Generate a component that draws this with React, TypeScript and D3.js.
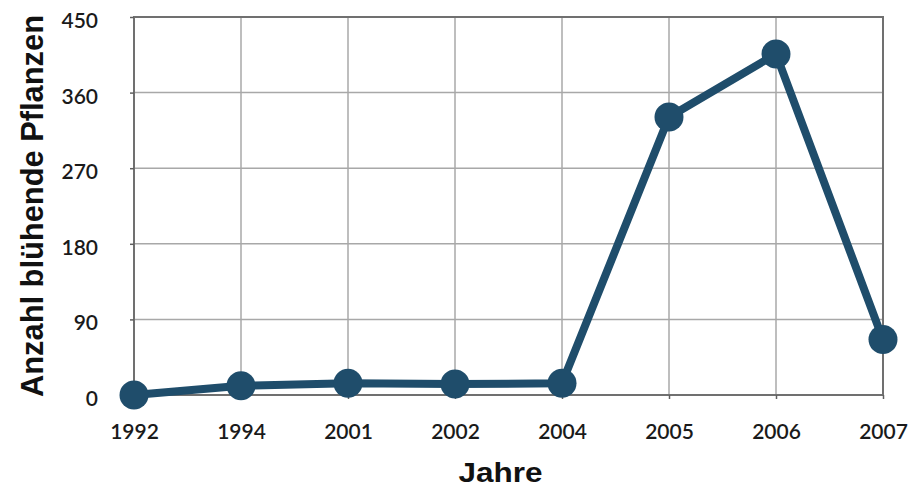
import { useEffect, useRef } from 'react';
import * as d3 from 'd3';

const years = ['1992', '1994', '2001', '2002', '2004', '2005', '2006', '2007'];
const plants = [0, 11, 14, 13, 14, 331, 406, 66];
const yTicks = [0, 90, 180, 270, 360, 450];

const App = () => {
    const svgRef = useRef<SVGSVGElement | null>(null);

    useEffect(() => {
        if (!svgRef.current) return;
        const svg = d3.select(svgRef.current);
        svg.selectAll('*').remove();

        const width = 912;
        const height = 490;
        const margin = { top: 17, right: 29, bottom: 95, left: 134 };

        const x = d3.scalePoint<string>()
            .domain(years)
            .range([margin.left, width - margin.right]);

        const y = d3.scaleLinear()
            .domain([0, 450])
            .range([height - margin.bottom, margin.top]);

        // grid
        const grid = svg.append('g').attr('stroke', '#a8a8a8').attr('stroke-width', 1.5);
        grid.selectAll('line.v')
            .data(years)
            .join('line')
            .attr('class', 'v')
            .attr('x1', d => x(d) as number)
            .attr('x2', d => x(d) as number)
            .attr('y1', y(450))
            .attr('y2', y(0));
        grid.selectAll('line.h')
            .data(yTicks)
            .join('line')
            .attr('class', 'h')
            .attr('x1', x.range()[0])
            .attr('x2', x.range()[1])
            .attr('y1', d => y(d))
            .attr('y2', d => y(d));

        // frame
        svg.append('rect')
            .attr('x', x.range()[0])
            .attr('y', y(450))
            .attr('width', x.range()[1] - x.range()[0])
            .attr('height', y(0) - y(450))
            .attr('fill', 'none')
            .attr('stroke', '#707070')
            .attr('stroke-width', 2);

        // axes
        const yAxis = svg.append('g')
            .attr('transform', `translate(${margin.left},0)`)
            .call(d3.axisLeft(y).tickValues(yTicks).tickSize(4).tickPadding(32));
        yAxis.select('.domain').remove();
        yAxis.selectAll('line').attr('stroke', '#606060').attr('stroke-width', 1.5);
        yAxis.selectAll('text')
            .attr('font-family', 'Lato, sans-serif')
            .attr('font-size', 21)
            .attr('font-weight', 600)
            .attr('fill', '#1a1a1a')
            .attr('dy', '0.5em');

        const xAxis = svg.append('g')
            .attr('transform', `translate(0,${height - margin.bottom})`)
            .call(d3.axisBottom(x).tickSize(4).tickPadding(25));
        xAxis.select('.domain').remove();
        xAxis.selectAll('line').attr('stroke', '#606060').attr('stroke-width', 1.5);
        xAxis.selectAll('text')
            .attr('font-family', 'Lato, sans-serif')
            .attr('font-size', 21)
            .attr('font-weight', 600)
            .attr('fill', '#1a1a1a');

        // series
        const line = d3.line<number>()
            .x((_, i) => x(years[i]) as number)
            .y(d => y(d));

        svg.append('path')
            .datum(plants)
            .attr('d', line)
            .attr('fill', 'none')
            .attr('stroke', '#1f4d6b')
            .attr('stroke-width', 8)
            .attr('stroke-linejoin', 'round');

        svg.append('g')
            .selectAll('circle')
            .data(plants)
            .join('circle')
            .attr('cx', (_, i) => x(years[i]) as number)
            .attr('cy', d => y(d))
            .attr('r', 14.5)
            .attr('fill', '#1f4d6b');

        // titles
        svg.append('text')
            .attr('x', (x.range()[0] + x.range()[1]) / 2 - 8)
            .attr('y', 482)
            .attr('text-anchor', 'middle')
            .attr('font-family', 'Liberation Sans, Arial, sans-serif')
            .attr('font-weight', 700)
            .attr('font-size', 28)
            .attr('textLength', 84)
            .attr('lengthAdjust', 'spacingAndGlyphs')
            .attr('fill', '#111')
            .text('Jahre');

        svg.append('text')
            .attr('transform', `translate(43,206) rotate(-90)`)
            .attr('text-anchor', 'middle')
            .attr('font-family', 'Liberation Sans, Arial, sans-serif')
            .attr('font-weight', 700)
            .attr('font-size', 31)
            .attr('textLength', 382)
            .attr('lengthAdjust', 'spacingAndGlyphs')
            .attr('fill', '#111')
            .text('Anzahl blühende Pflanzen');
    }, []);

    return (
        <svg
            ref={svgRef}
            width={912}
            height={490}
            style={{ position: 'absolute', left: 0, top: 0, background: '#fff' }}
        />
    );
};

export default App;
